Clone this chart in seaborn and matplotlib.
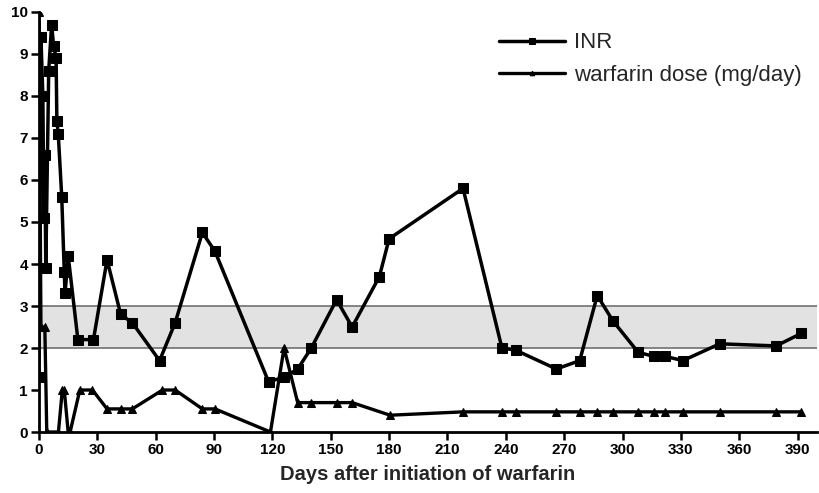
import matplotlib
matplotlib.use("Agg")
import matplotlib.pyplot as plt
import seaborn as sns
import pandas as pd

# INR measurements (days after start, INR)
inr_days = [0, 1, 2, 2.5, 3, 3.5, 5, 6.5, 7.5, 8.8, 9.2, 9.9, 11.7, 13, 13.4, 15,
            20, 28, 35, 42, 48, 62, 70, 84, 90.5, 118, 126, 133, 140, 153, 161,
            175, 180, 218, 238, 245, 266, 278, 287, 295, 308, 316, 322, 331,
            350, 379, 392]
inr_values = [1.3, 9.4, 8.0, 5.1, 6.6, 3.9, 8.6, 9.7, 9.2, 8.9, 7.4, 7.1, 5.6, 3.8,
              3.3, 4.2, 2.2, 2.2, 4.1, 2.8, 2.6, 1.7, 2.6, 4.75, 4.3, 1.2, 1.3,
              1.5, 2.0, 3.15, 2.5, 3.7, 4.6, 5.8, 2.0, 1.95, 1.5, 1.7, 3.25,
              2.65, 1.9, 1.8, 1.8, 1.7, 2.1, 2.05, 2.35]

# warfarin dose (mg/day)
dose_days = [0, 1, 3, 4, 10, 12, 13, 15, 16, 21, 27.5, 35, 42, 48, 63.5, 70,
             84, 90.5, 119, 126, 133, 140, 153, 161, 180.5, 218, 238, 245, 266,
             278, 287, 295, 308, 316, 322, 331, 350, 379, 392]
dose_values = [10, 2.5, 2.5, 0, 0, 1.0, 1.0, 0, 0, 1.0, 1.0, 0.55, 0.55, 0.55,
               1.0, 1.0, 0.55, 0.55, 0, 2.0, 0.7, 0.7, 0.7, 0.7, 0.4, 0.48,
               0.48, 0.48, 0.48, 0.48, 0.48, 0.48, 0.48, 0.48, 0.48, 0.48, 0.48,
               0.48, 0.48]

x_ticks = list(range(0, 391, 30))
y_ticks = list(range(0, 11))

sns.set_style("ticks")
plt.rcParams["font.family"] = ["Liberation Sans", "DejaVu Sans"]

inr_df = pd.DataFrame({"day": inr_days, "value": inr_values})
dose_df = pd.DataFrame({"day": dose_days, "value": dose_values})

fig = plt.figure(figsize=(8.19, 4.93), dpi=100)
ax = fig.add_axes([0.0476, 0.1237, 0.9500, 0.8520])

# therapeutic range band
ax.axhspan(2, 3, color="#e2e2e2", zorder=0, lw=0)
ax.axhline(2, color="#707070", lw=1.2, zorder=1)
ax.axhline(3, color="#707070", lw=1.2, zorder=1)

sns.lineplot(data=inr_df, x="day", y="value", ax=ax, color="black", lw=2.5,
             marker="s", markersize=6.5, markeredgecolor="black",
             estimator=None, label="INR", zorder=3)
sns.lineplot(data=dose_df, x="day", y="value", ax=ax, color="black", lw=2.4,
             marker="^", markersize=5.5, markeredgecolor="black",
             estimator=None, label="warfarin dose (mg/day)", zorder=3)

ax.set_xlim(0, 400)
ax.set_ylim(0, 10)
ax.set_xticks(x_ticks)
ax.set_yticks(y_ticks)
ax.tick_params(axis="both", direction="out", length=6, width=1.8,
               labelsize=11, colors="black", pad=2)
for lab in ax.get_xticklabels() + ax.get_yticklabels():
    lab.set_fontweight("bold")
for s in ["left", "bottom"]:
    ax.spines[s].set_linewidth(2)
    ax.spines[s].set_color("black")
sns.despine(ax=ax)

ax.set_xlabel("Days after initiation of warfarin", fontsize=14.5,
              fontweight="bold", labelpad=6)
ax.set_ylabel("")

leg = ax.legend(loc="upper right", bbox_to_anchor=(0.995, 0.978), frameon=False,
                fontsize=16, handlelength=3.0, handletextpad=0.4,
                labelspacing=0.52, markerscale=0.6, borderaxespad=0.1)

fig.savefig("out.png", dpi=100)
